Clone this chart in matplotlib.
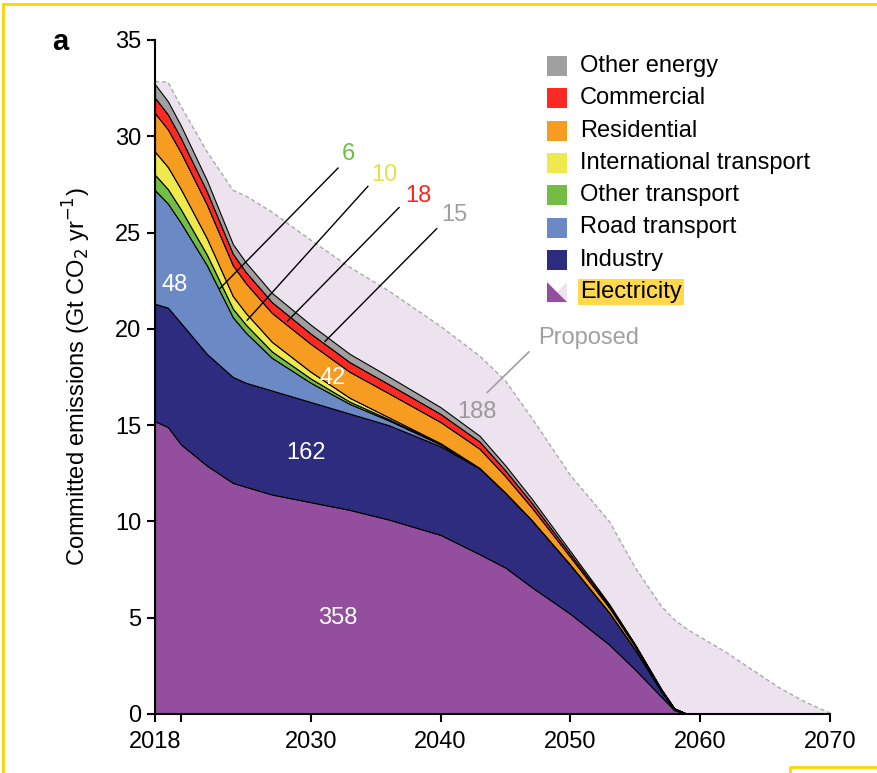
import numpy as np
import matplotlib

matplotlib.use('Agg')
import matplotlib.pyplot as plt  # noqa: E402
from matplotlib.patches import Rectangle, Polygon  # noqa: E402
from matplotlib.lines import Line2D  # noqa: E402

plt.rcParams['font.family'] = ['Liberation Sans', 'DejaVu Sans']

# years of the read-off points
years = [2018, 2019, 2020, 2022, 2024, 2025, 2027, 2030, 2033, 2036, 2040, 2043,
         2045, 2047, 2050, 2053, 2055, 2057, 2058, 2059, 2060, 2062, 2064, 2066,
         2068, 2070]

# committed emissions by sector (Gt CO2 per year), stacked bottom -> top
electricity = [15.2, 14.9, 14.0, 12.9, 12.0, 11.8, 11.4, 11.0, 10.6, 10.1, 9.3, 8.3,
               7.6, 6.6, 5.2, 3.6, 2.3, 0.9, 0.2, 0, 0, 0, 0, 0, 0, 0]
industry = [6.1, 6.2, 6.3, 5.8, 5.5, 5.4, 5.4, 5.2, 5.0, 4.9, 4.6, 4.45,
            3.88, 3.49, 2.55, 1.67, 1.04, 0.29, 0.06, 0, 0, 0, 0, 0, 0, 0]
road_transport = [5.9, 5.4, 5.2, 4.6, 3.1, 2.6, 1.7, 1.0, 0.5, 0.25, 0.1, 0.02,
                  0.01, 0, 0, 0, 0, 0, 0, 0, 0, 0, 0, 0, 0, 0]
other_transport = [0.8, 0.75, 0.7, 0.55, 0.45, 0.42, 0.33, 0.22, 0.12, 0.06, 0.02, 0,
                   0, 0, 0, 0, 0, 0, 0, 0, 0, 0, 0, 0, 0, 0]
intl_transport = [1.2, 1.15, 1.05, 0.85, 0.65, 0.6, 0.5, 0.35, 0.2, 0.1, 0.04, 0.01,
                  0, 0, 0, 0, 0, 0, 0, 0, 0, 0, 0, 0, 0, 0]
residential = [2.0, 1.95, 1.9, 1.75, 1.6, 1.55, 1.5, 1.45, 1.35, 1.25, 1.1, 1.0,
               0.85, 0.65, 0.4, 0.25, 0.15, 0.06, 0.02, 0, 0, 0, 0, 0, 0, 0]
commercial = [0.8, 0.78, 0.75, 0.68, 0.6, 0.58, 0.56, 0.53, 0.5, 0.47, 0.42, 0.37,
              0.3, 0.24, 0.15, 0.1, 0.06, 0.03, 0.01, 0, 0, 0, 0, 0, 0, 0]
other_energy = [0.7, 0.68, 0.65, 0.58, 0.5, 0.5, 0.48, 0.46, 0.43, 0.4, 0.35, 0.3,
                0.26, 0.22, 0.15, 0.08, 0.05, 0.02, 0.01, 0, 0, 0, 0, 0, 0, 0]
# proposed electricity infrastructure, on top of the committed stack
proposed = [0.15, 1.0, 1.0, 1.5, 2.8, 3.45, 4.2, 4.4, 4.5, 4.45, 4.2, 4.15,
            4.4, 4.2, 3.95, 4.3, 4.0, 4.3, 4.6, 4.4, 4.0, 3.2, 2.3, 1.4, 0.65, 0.05]

sector_names = ['Electricity', 'Industry', 'Road transport', 'Other transport',
                'International transport', 'Residential', 'Commercial', 'Other energy']
sector_colors = ['#934f9d', '#2e2c7e', '#6b8ac5', '#74bd44',
                 '#efe94e', '#f59c21', '#fb2a22', '#a0a0a0']
proposed_color = '#ece3ef'

# cumulative totals written on the chart
totals = {'Electricity': 358, 'Industry': 162, 'Road transport': 48,
          'Other transport': 6, 'International transport': 10,
          'Residential': 42, 'Commercial': 18, 'Other energy': 15, 'Proposed': 188}

FS = 17

fig = plt.figure(figsize=(8.77, 7.73), dpi=100)
ax = fig.add_axes([155 / 877, 1 - 714 / 773, 675 / 877, 674 / 773])

x = np.array(years)
layers = [electricity, industry, road_transport, other_transport,
          intl_transport, residential, commercial, other_energy]
committed = np.sum(np.array(layers), axis=0)
prop_top = committed + np.array(proposed)

ax.fill_between(x, committed, prop_top, color=proposed_color, lw=0, zorder=1)
ax.plot(x, prop_top, color='#aaaaaa', lw=1, ls=(0, (3, 2)), zorder=1.5)
ax.stackplot(x, *layers, colors=sector_colors, edgecolor='black', linewidth=0.8,
             zorder=2)

ax.set_xlim(2018, 2070)
ax.set_ylim(0, 35)
ax.set_xticks([2018, 2020, 2030, 2040, 2050, 2060, 2070])
ax.set_xticklabels(['2018', '', '2030', '2040', '2050', '2060', '2070'])
ax.set_yticks(range(0, 36, 5))
for s in ['top', 'right']:
    ax.spines[s].set_visible(False)
for s in ['left', 'bottom']:
    ax.spines[s].set_linewidth(1.5)
    ax.spines[s].set_zorder(5)
ax.tick_params(direction='out', length=6, width=1.5, labelsize=FS, pad=4)
ax.tick_params(axis='x', pad=6)
ax.set_ylabel('Committed emissions (Gt CO$_2$ yr$^{-1}$)', fontsize=FS, labelpad=16)

# numbers inside the layers
ax.text(2019.5, 22.3, str(totals['Road transport']), color='white', fontsize=FS,
        ha='center', va='center', zorder=6)
ax.text(2029.6, 13.55, str(totals['Industry']), color='white', fontsize=FS,
        ha='center', va='center', zorder=6)
ax.text(2032.1, 5.0, str(totals['Electricity']), color='white', fontsize=FS,
        ha='center', va='center', zorder=6)
ax.text(2031.7, 17.45, str(totals['Residential']), color='white', fontsize=FS,
        ha='center', va='center', zorder=6)
ax.text(2042.8, 15.7, str(totals['Proposed']), color='#9a9a9a', fontsize=FS,
        ha='center', va='center', zorder=6)

# leader-line labels for thin layers
leaders = [
    ('Other transport', '#6cbf3f', (2032.1, 28.35), (2023.0, 22.1), (2032.9, 29.1)),
    ('International transport', '#e6e04a', (2034.4, 27.4), (2025.1, 20.45), (2035.7, 28.0)),
    ('Commercial', '#f52a22', (2036.8, 26.3), (2028.2, 20.4), (2038.3, 26.9)),
    ('Other energy', '#a0a0a0', (2039.7, 25.2), (2031.1, 19.35), (2041.1, 25.9)),
]
for name, col, p0, p1, pt in leaders:
    ax.plot([p0[0], p1[0]], [p0[1], p1[1]], color='black', lw=1, zorder=6)
    ax.text(pt[0], pt[1], str(totals[name]), color=col, fontsize=FS,
            ha='center', va='center', zorder=6)

ax.plot([2043.6, 2046.8], [16.7, 18.8], color='#a0a0a0', lw=1.2, zorder=6)
ax.text(2051.4, 19.5, 'Proposed', color='#a0a0a0', fontsize=FS,
        ha='center', va='center', zorder=6)

# legend drawn by hand in pixel positions
W, H = 877, 773
legend_rows = list(zip(sector_names[::-1], sector_colors[::-1]))
for i, (name, col) in enumerate(legend_rows):
    yc = 66 + i * 32.3
    y0 = 1 - (yc + 10) / H
    if name == 'Electricity':
        fig.patches.append(Polygon([(547 / W, y0), (567 / W, y0), (567 / W, y0 + 20 / H)],
                                   closed=True, facecolor=proposed_color,
                                   transform=fig.transFigure, lw=0))
        fig.patches.append(Polygon([(547 / W, y0), (547 / W, y0 + 20 / H), (567 / W, y0)],
                                   closed=True, facecolor=col,
                                   transform=fig.transFigure, lw=0))
        fig.text(580 / W, 1 - yc / H, name, fontsize=FS, va='center', ha='left',
                 bbox=dict(facecolor='#ffd84d', edgecolor='none', pad=1.5))
    else:
        fig.patches.append(Rectangle((547 / W, y0), 20 / W, 20 / H, facecolor=col,
                                     transform=fig.transFigure, lw=0))
        fig.text(580 / W, 1 - yc / H, name, fontsize=FS, va='center', ha='left')

fig.text(52 / W, 1 - 42 / H, 'a', fontsize=21, fontweight='bold', va='center')

# yellow frame of the screenshot
ycol = '#ffd500'
fig.lines.append(Line2D([3 / W, 1], [1 - 4 / H, 1 - 4 / H], color=ycol, lw=2,
                        transform=fig.transFigure))
fig.lines.append(Line2D([3 / W, 3 / W], [0, 1 - 4 / H], color=ycol, lw=2,
                        transform=fig.transFigure))
fig.lines.append(Line2D([790 / W, 790 / W, 1], [0, 1 - 767 / H, 1 - 767 / H], color=ycol,
                        lw=2, transform=fig.transFigure))

fig.savefig('out.png', dpi=100)
plt.close(fig)
